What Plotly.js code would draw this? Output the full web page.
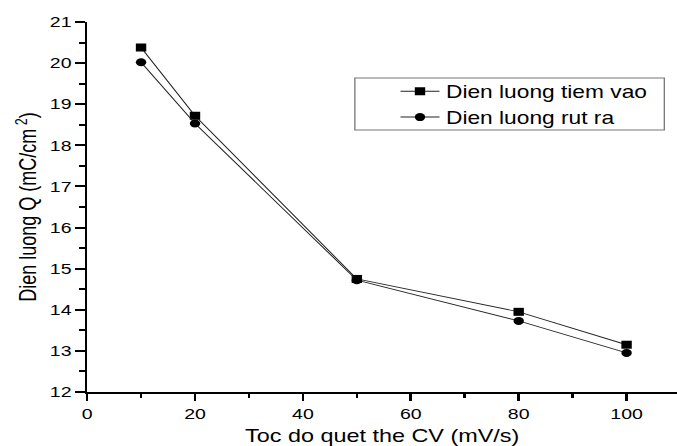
<!DOCTYPE html>
<html><head><meta charset="utf-8">
<script src="https://cdn.plot.ly/plotly-3.0.1.min.js"></script>
<style>
html,body{margin:0;padding:0;overflow:hidden;background:#fff;}
#wrap{width:677px;height:446px;overflow:hidden;position:relative;}
#chart{width:521px;height:446px;transform:scaleX(1.3);transform-origin:0 0;}
</style></head><body><div id="wrap"><div id="chart"></div></div>
<script>
// Data
const scanRates = [10, 20, 50, 80, 100];                 // mV/s
const chargeInjected = [20.38, 18.72, 14.75, 13.95, 13.15]; // mC/cm^2
const chargeExtracted = [20.02, 18.53, 14.72, 13.73, 12.95]; // mC/cm^2
const seriesNames = ['Dien luong tiem vao', 'Dien luong rut ra'];
const xTitle = 'Toc do quet the CV (mV/s)';
const yTitle = 'Dien luong Q (mC/cm<sup> 2</sup>)';

const font = 'Liberation Sans, Arial, Helvetica, sans-serif';

const traces = [
  {x: scanRates, y: chargeInjected, name: seriesNames[0], type: 'scatter', mode: 'lines+markers',
   line: {color: '#222', width: 0.9}, marker: {symbol: 'square', size: 8, color: '#000'}},
  {x: scanRates, y: chargeExtracted, name: seriesNames[1], type: 'scatter', mode: 'lines+markers',
   line: {color: '#222', width: 0.9}, marker: {symbol: 'circle', size: 8, color: '#000'}}
];

const axisCommon = {
  showline: true, linecolor: '#000', linewidth: 2, mirror: false,
  ticks: 'outside', tickcolor: '#000', tickwidth: 2, ticklen: 7,
  showgrid: false, zeroline: false,
  tickfont: {family: font, size: 15, color: '#000'}
};

const layout = {
  width: 521, height: 446,
  margin: {l: 67, r: 0, t: 22, b: 54},
  paper_bgcolor: '#fff', plot_bgcolor: '#fff',
  font: {family: font, color: '#000'},
  showlegend: true,
  legend: {x: 0.52, y: 0.861, xanchor: 'left', yanchor: 'top', borderwidth: 0,
           bgcolor: 'rgba(0,0,0,0)', font: {family: font, size: 17.5, color: '#000'}},
  shapes: [{type: 'rect', xref: 'paper', yref: 'paper', x0: 0.4537, x1: 0.978, y0: 0.708, y1: 0.8486,
            line: {color: '#777', width: 1}, fillcolor: 'rgba(0,0,0,0)'}],
  xaxis: Object.assign({}, axisCommon, {
    range: [0, 109.4], dtick: 20, tick0: 0,
    minor: {dtick: 10, tick0: 0, ticks: 'outside', ticklen: 4, tickwidth: 2, tickcolor: '#000', showgrid: false},
    title: {text: xTitle, font: {family: font, size: 18, color: '#000'}, standoff: 16}
  }),
  yaxis: Object.assign({}, axisCommon, {
    range: [12, 21], dtick: 1, tick0: 12,
    minor: {dtick: 0.5, tick0: 12, ticks: 'outside', ticklen: 4, tickwidth: 2, tickcolor: '#000', showgrid: false},
    title: {text: yTitle, font: {family: font, size: 18, color: '#000'}, standoff: 5}
  })
};

Plotly.newPlot('chart', traces, layout, {displayModeBar: false, staticPlot: true});
</script></body></html>
